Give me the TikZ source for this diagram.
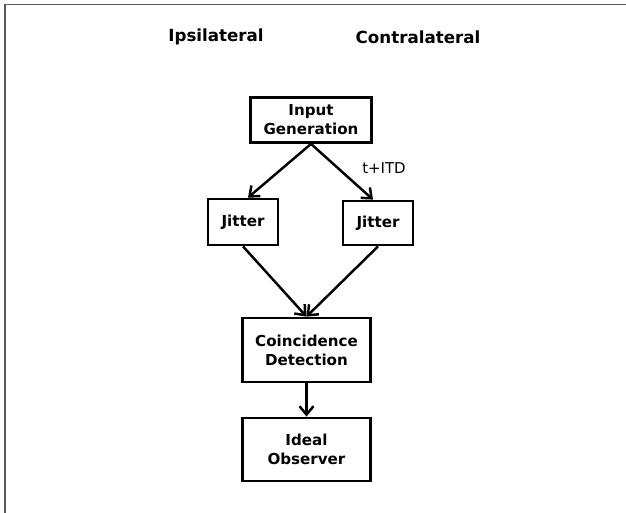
\documentclass[tikz,border=0pt]{standalone}
\usepackage{fontspec}
\setmainfont{DejaVu Sans}
\usetikzlibrary{arrows.meta}
\begin{document}
\begin{tikzpicture}[x=0.02cm,y=-0.02cm,
    box/.style={draw, line width=1.6pt, align=center, inner sep=0pt,
      font=\bfseries\fontsize{8.6}{10.8}\selectfont},
    head/.style={font=\bfseries\fontsize{9.5}{11}\selectfont},
    flow/.style={-{Straight Barb[length=1.7mm,width=2.8mm]}, line width=1.4pt}]
    \useasboundingbox (0,0) rectangle (626,513);
    \draw [gray!70!black, line width=1.1pt] (5,513) -- (5,4.5) -- (626,4.5);
    \node [head] (ipsi) at (216,37) {Ipsilateral};
    \node [head] (contra) at (418,37) {Contralateral};
    \node [box, minimum width=2.42cm, minimum height=0.9cm] (input) at (311,120) {Input\\Generation};
    \node [box, minimum width=1.4cm, minimum height=0.92cm] (jitL) at (243,222) {Jitter};
    \node [box, minimum width=1.4cm, minimum height=0.88cm] (jitR) at (378,223) {Jitter};
    \node [box, minimum width=2.56cm, minimum height=1.28cm] (coinc) at (306.5,350) {Coincidence\\Detection};
    \node [box, minimum width=2.56cm, minimum height=1.26cm] (ideal) at (306.5,449.5) {Ideal\\Observer};
    \node [font=\fontsize{8.5}{10}\selectfont] (itd) at (384,168) {t+ITD};
    \draw [flow] (input.south) -- ([xshift=0.1cm]jitL.north);
    \draw [flow] (input.south) -- ([xshift=-0.1cm]jitR.north);
    \draw [flow] (jitL.south) -- (coinc.north);
    \draw [flow] (jitR.south) -- (coinc.north);
    \draw [flow] (coinc.south) -- (ideal.north);
\end{tikzpicture}
\end{document}
